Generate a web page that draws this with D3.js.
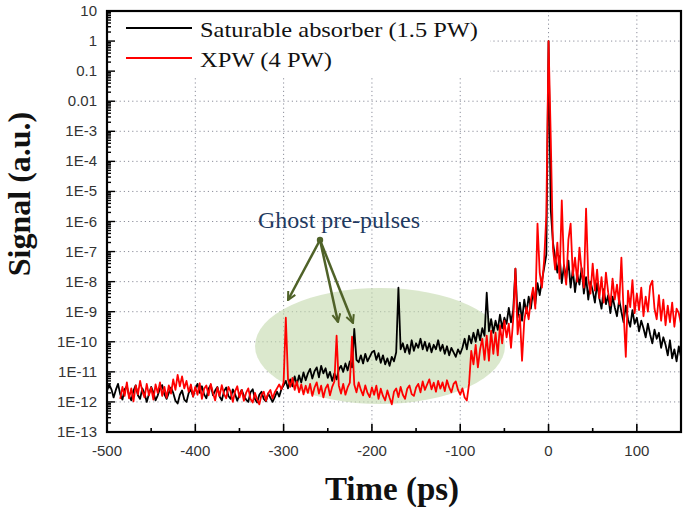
<!DOCTYPE html>
<html><head><meta charset="utf-8">
<script src="https://cdn.jsdelivr.net/npm/d3@7"></script>
<style>body{margin:0;background:#fff}svg{display:block}</style>
</head><body><svg id="c" width="685" height="508"></svg>
<script>
// ---- data (signal values stored as log10 exponents) ----
const xTickValues = [-500,-400,-300,-200,-100,0,100];
const xTickLabels = ["-500","-400","-300","-200","-100","0","100"];
const yTickValues = [10,1,0.1,0.01,1e-3,1e-4,1e-5,1e-6,1e-7,1e-8,1e-9,1e-10,1e-11,1e-12,1e-13];
const yTickLabels = ["10","1","0.1","0.01","1E-3","1E-4","1E-5","1E-6","1E-7","1E-8","1E-9","1E-10","1E-11","1E-12","1E-13"];
const seriesNames = ["Saturable absorber (1.5 PW)","XPW (4 PW)"];
const saStart = -500, xpwStart = -485, sampleStep = 2.5; // ps
const saExp = [
-11.63,-11.42,-11.58,-11.85,-11.60,-11.40,-11.75,-11.92,-11.58,-11.48,
-11.80,-11.95,-11.62,-11.45,-11.78,-11.90,-11.55,-11.72,-12.00,-11.74,
-11.50,-11.68,-11.95,-11.78,-11.55,-11.44,-11.75,-11.90,-11.70,-11.52,
-11.70,-11.96,-12.05,-11.76,-11.62,-11.92,-12.00,-11.70,-11.58,-11.82,
-11.55,-11.40,-11.70,-11.48,-11.75,-11.88,-11.56,-11.44,-11.78,-11.62,
-11.50,-11.82,-11.95,-11.64,-11.52,-11.80,-11.90,-11.58,-11.74,-11.96,
-11.76,-11.60,-11.80,-11.92,-12.00,-11.68,-11.58,-11.90,-12.02,-11.76,
-11.66,-11.90,-11.98,-11.72,-11.86,-12.00,-11.84,-11.66,-11.82,-11.58,
-11.45,
-11.30,-11.55,-11.25,-11.48,-11.15,-11.42,-11.12,-11.35,-11.02,-11.28,
-11.05,-10.90,-11.22,-10.98,-10.85,-11.18,-10.80,-11.05,-10.88,-11.20,
-11.00,-11.30,-11.05,-11.25,-10.92,-10.80,-11.00,-10.72,-10.95,-10.65,
-10.85,-9.57,-10.60,-10.68,-10.45,-10.72,-10.40,-10.65,-10.50,-10.35,
-10.30,-10.60,-10.38,-10.70,-10.45,-10.75,-10.55,-10.80,-10.50,-10.65,
-10.35,-8.20,-10.25,-10.05,-10.35,-10.10,-10.40,-9.95,-10.30,-10.05,
-10.20,-9.90,-10.25,-10.00,-10.30,-10.05,-10.35,-10.10,-10.25,-9.95,
-10.30,-10.10,-10.40,-10.15,-10.45,-10.20,-10.35,-10.50,-10.25,-10.40,
-10.20,-9.90,-10.25,-9.80,-10.05,-9.70,-10.00,-9.60,-9.95,-9.55,
-9.80,-8.37,-9.65,-9.25,-9.70,-9.30,-9.60,-9.10,-9.55,-9.20,
-9.40,-8.87,-9.35,-8.95,-7.57,-9.20,-8.70,-9.30,-8.60,-9.05,
-8.50,-8.90,-8.30,-8.75,-8.05,-8.45,-7.97,-7.55,-7.10,
0.00,
-5.60,-6.70,-7.20,-7.70,-7.15,-8.05,-7.45,-7.90,-7.30,-8.20,
-7.60,-8.35,-7.75,-8.10,-7.55,-8.40,-7.85,-8.60,-8.00,-8.30,
-8.70,-8.05,-8.55,-8.90,-8.25,-8.75,-8.45,-9.05,-8.50,-8.85,
-9.15,-8.60,-9.00,-9.35,-8.80,-9.25,-9.50,-8.95,-9.40,-9.20,
-9.65,-9.30,-9.55,-9.85,-9.40,-9.75,-10.05,-9.60,-9.90,-9.70,
-10.20,-9.85,-10.10,-10.45,-9.95,-10.55,-10.25,-10.65,-10.15,-10.50
];
const xpwExp = [
-11.90,-11.50,-11.80,-11.35,-11.88,-11.55,-11.98,-11.45,-11.75,-11.30,
-11.65,-11.85,-11.40,-11.78,-11.52,-11.92,-11.42,-11.70,-11.35,-11.80,
-11.50,-11.86,-11.45,-11.72,-11.25,-11.60,-11.10,-11.48,-11.15,-11.55,
-11.30,-11.66,-11.42,-11.82,-11.50,-11.76,-11.38,-11.90,-11.56,-11.45,
-11.78,-11.40,-11.70,-11.95,-11.52,-11.80,-11.44,-11.74,-11.88,-11.50,
-11.66,-12.00,-11.65,-11.48,-11.85,-11.60,-11.96,-11.70,-11.55,-11.90,
-12.02,-11.70,-11.92,-12.08,-11.76,-11.66,-11.96,-11.72,-11.60,-11.88,
-11.68,-11.55,-11.42,-11.58,-11.35,
-9.20,-11.25,-11.50,-11.20,-11.60,-11.32,-11.68,-11.42,-11.75,-11.46,
-11.70,-11.40,-11.80,-11.52,-11.35,-11.72,-11.46,-11.85,-11.55,-11.42,
-11.78,-11.50,-11.32,-9.80,-11.45,-11.72,-11.40,-11.76,-11.52,-11.36,
-9.83,-11.42,-11.68,-11.35,-11.60,-11.78,-11.45,-11.70,-11.84,-11.52,
-11.76,-11.46,-11.90,-11.56,-11.80,-11.95,-11.62,-11.86,-12.08,-11.66,
-11.55,-11.84,-11.50,-11.76,-11.90,-11.56,-11.45,-11.74,-11.80,-11.52,
-11.40,-11.68,-11.32,-11.60,-11.42,-11.25,-11.58,-11.36,-11.66,-11.30,
-11.56,-11.35,-11.64,-11.28,-11.52,-11.68,-11.40,-11.32,-11.60,-11.76,
-11.55,-11.85,-11.95,-11.40,-10.30,-10.75,-10.10,-10.85,-10.25,-9.90,
-10.60,-9.80,-10.63,-9.63,-10.40,-9.70,-10.45,-9.45,-10.05,-9.30,
-9.85,-9.40,-10.20,-9.25,-7.57,-9.75,-9.10,-10.63,-9.30,-8.85,
-9.25,-8.60,-8.20,-8.90,-6.07,-7.70,-8.20,-7.30,-5.80,
0.00,
-3.20,-6.90,-7.60,-6.70,-7.90,-5.30,-7.50,-8.10,-6.60,-6.07,
-7.80,-7.20,-8.00,-6.87,-7.65,-8.20,-5.57,-7.90,-8.40,-7.40,
-8.30,-7.60,-8.55,-7.85,-8.70,-7.70,-8.35,-8.80,-7.90,-8.60,
-8.10,-8.75,-7.20,-9.00,-10.50,-8.30,-8.85,-7.95,-9.05,-8.40,
-8.95,-8.20,-9.15,-8.50,-9.00,-8.15,-7.97,-8.90,-9.25,-8.45,
-9.30,-8.60,-9.45,-8.80,-9.35,-8.70,-9.50,-8.90,-9.05,-9.40
];

// ---- chart ----
const svg = d3.select("#c");
const L = 107, R = 681, T = 11, B = 432;
const x = d3.scaleLinear().domain([-500, 150]).range([L, R]);
const y = d3.scaleLog().domain([1e-13, 10]).range([B, T]);

const sa = saExp.map((e, i) => ({t: saStart + i * sampleStep, v: Math.pow(10, e)}));
const xpw = xpwExp.map((e, i) => ({t: xpwStart + i * sampleStep, v: Math.pow(10, e)}));

// grid
const grid = svg.append("g").attr("stroke", "#8d8f9c").attr("stroke-width", 1).attr("stroke-dasharray", "1.2,3");
grid.selectAll("line.h").data(yTickValues.slice(1, -1)).join("line")
  .attr("x1", L).attr("x2", R).attr("y1", d => y(d)).attr("y2", d => y(d));
grid.selectAll("line.v").data(xTickValues.slice(1)).join("line")
  .attr("y1", T).attr("y2", B).attr("x1", d => x(d)).attr("x2", d => x(d));

// highlight ellipse
svg.append("ellipse").attr("cx", 380).attr("cy", 346).attr("rx", 125).attr("ry", 58)
  .attr("fill", "#c3d9ab").attr("fill-opacity", 0.6);

// lines
const line = d3.line().x(d => x(d.t)).y(d => y(d.v));
svg.append("path").datum(sa).attr("d", line).attr("fill", "none")
  .attr("stroke", "#000").attr("stroke-width", 1.8).attr("stroke-linejoin", "round");
svg.append("path").datum(xpw).attr("d", line).attr("fill", "none")
  .attr("stroke", "#ff0000").attr("stroke-width", 1.8).attr("stroke-linejoin", "round");

// legend
svg.append("rect").attr("x", L + 1).attr("y", T + 1).attr("width", 382).attr("height", 66).attr("fill", "#fff");
const lg = svg.append("g");
const colors = ["#000", "#ff0000"];
const legendLen = [278, 132];
seriesNames.forEach((n, i) => {
  const yy = 28 + i * 30;
  lg.append("line").attr("x1", 126).attr("x2", 192).attr("y1", yy).attr("y2", yy)
    .attr("stroke", colors[i]).attr("stroke-width", 1.8);
  lg.append("text").attr("x", 200).attr("y", yy + 9).text(n)
    .attr("font-family", "Liberation Serif, Times New Roman, serif").attr("font-size", 21)
    .attr("textLength", legendLen[i]).attr("lengthAdjust", "spacingAndGlyphs").attr("fill", "#111");
});

// frame
svg.append("rect").attr("x", L).attr("y", T).attr("width", R - L).attr("height", B - T)
  .attr("fill", "none").attr("stroke", "#000").attr("stroke-width", 2.2);

// y ticks (inward) with minor ticks
const yMinor = [];
for (let e = -13; e < 1; e++) for (let m = 2; m <= 9; m++) yMinor.push(m * Math.pow(10, e));
const yAx = svg.append("g").attr("stroke", "#000").attr("stroke-width", 1.4);
yAx.selectAll("line.maj").data(yTickValues).join("line")
  .attr("x1", L).attr("x2", L + 8).attr("y1", d => y(d)).attr("y2", d => y(d));
yAx.selectAll("line.min").data(yMinor).join("line")
  .attr("x1", L).attr("x2", L + 4).attr("y1", d => y(d)).attr("y2", d => y(d));
svg.append("g").selectAll("text").data(yTickValues).join("text")
  .attr("x", 97).attr("y", d => y(d) + 5).attr("text-anchor", "end")
  .attr("font-family", "Liberation Sans, Arial, sans-serif").attr("font-size", 15).attr("fill", "#333")
  .text((d, i) => yTickLabels[i]);

// x ticks (inward)
const xMinor = d3.range(-450, 150, 100);
const xAx = svg.append("g").attr("stroke", "#000").attr("stroke-width", 1.6);
xAx.selectAll("line.maj").data(xTickValues).join("line")
  .attr("x1", d => x(d)).attr("x2", d => x(d)).attr("y1", B).attr("y2", B - 8);
xAx.selectAll("line.min").data(xMinor).join("line")
  .attr("x1", d => x(d)).attr("x2", d => x(d)).attr("y1", B).attr("y2", B - 4);
svg.append("g").selectAll("text").data(xTickValues).join("text")
  .attr("x", d => x(d)).attr("y", 456).attr("text-anchor", "middle")
  .attr("font-family", "Liberation Sans, Arial, sans-serif").attr("font-size", 15).attr("fill", "#333")
  .text((d, i) => xTickLabels[i]);

// axis titles
svg.append("text").attr("transform", "translate(30,194) rotate(-90)").attr("text-anchor", "middle")
  .attr("font-family", "Liberation Serif, Times New Roman, serif").attr("font-weight", "bold")
  .attr("font-size", 32).attr("fill", "#111").text("Signal (a.u.)");
svg.append("text").attr("x", 392).attr("y", 500).attr("text-anchor", "middle")
  .attr("font-family", "Liberation Serif, Times New Roman, serif").attr("font-weight", "bold")
  .attr("font-size", 33).attr("fill", "#111").text("Time (ps)");

// annotation
const defs = svg.append("defs");
defs.append("marker").attr("id", "ah").attr("viewBox", "0 0 10 10").attr("refX", 9).attr("refY", 5)
  .attr("markerWidth", 10).attr("markerHeight", 10).attr("markerUnits", "userSpaceOnUse").attr("orient", "auto")
  .append("path").attr("d", "M1,1 L9,5 L1,9").attr("fill", "none").attr("stroke", "#4f6228").attr("stroke-width", 2);
const origin = [320, 240];
const targets = [[288, 300], [338, 322], [353, 323]];
targets.forEach(p => {
  svg.append("line").attr("x1", origin[0]).attr("y1", origin[1]).attr("x2", p[0]).attr("y2", p[1])
    .attr("stroke", "#4f6228").attr("stroke-width", 2.5).attr("marker-end", "url(#ah)");
});
svg.append("circle").attr("cx", origin[0]).attr("cy", origin[1]).attr("r", 3.2).attr("fill", "#4f6228");
svg.append("text").attr("x", 258).attr("y", 228).text("Ghost pre-pulses")
  .attr("font-family", "Liberation Serif, Times New Roman, serif").attr("font-size", 24).attr("fill", "#1f3a60");
</script></body></html>
